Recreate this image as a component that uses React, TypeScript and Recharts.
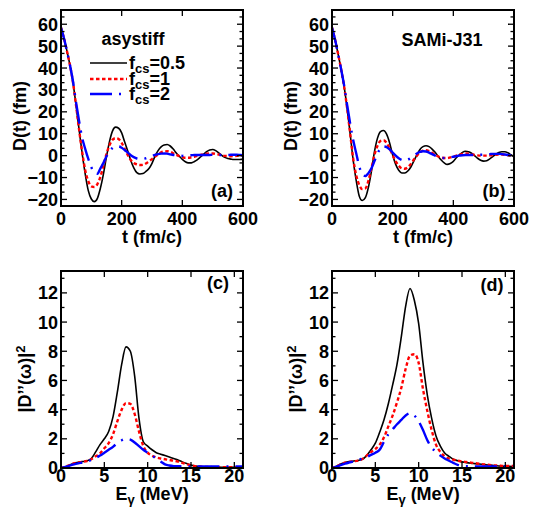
import React from "react";
import { LineChart, Line, XAxis, YAxis } from "recharts";

const FONT = '"Liberation Sans", Arial, Helvetica, sans-serif';

// time grid (fm/c) for the D(t) panels
const timeGrid = [
  0, 10, 20, 30, 40, 50, 60, 70, 80, 90, 100, 110, 120, 130, 140, 150, 160, 170, 180, 190,
  200, 210, 220, 230, 240, 250, 260, 270, 280, 290, 300, 310, 320, 330, 340, 350, 360, 370,
  380, 390, 400, 410, 420, 430, 440, 450, 460, 470, 480, 490, 500, 510, 520, 530, 540, 550,
  560, 570, 580, 590, 600,
];

// (a) asystiff
const asyF05 = [
  58.5, 53.5, 47.5, 41, 33, 22.5, 11.5, 0.8, -8.5, -16, -19.8, -21, -19.5, -14.8, -8.3, -0.5,
  6.5, 11.3, 13, 12.5, 10.4, 6.2, 2.1, -2.2, -5.6, -7.8, -8.4, -8.2, -7.2, -5.9, -3.5, -0.2,
  2.3, 4, 4.9, 5.1, 4.4, 3, 1.2, -0.3, -1.7, -2.8, -3.3, -3.3, -2.7, -1.8, -0.6, 0.6, 1.8, 2.6,
  2.8, 2.3, 1.3, 0.1, -0.8, -1.3, -1.6, -1.8, -1.8, -1.8, -1.6,
];
const asyF1 = [
  58.5, 53.5, 47.5, 41, 33, 22.5, 11.5, 1.5, -6.8, -11.7, -14, -14.3, -13, -9.6, -4.5, 0.8,
  4.8, 7.3, 8, 7.6, 5.8, 3.1, 0.3, -2, -3.4, -4, -4.3, -4.2, -3.6, -2.6, -1.6, -0.5, 0.6, 1.5,
  1.9, 2, 1.7, 1.1, 0.4, -0.2, -0.7, -1, -1, -0.8, -0.5, -0.1, 0.3, 0.6, 0.9, 1, 1, 0.8, 0.5,
  0.2, -0.1, -0.2, -0.3, -0.2, -0.1, 0, 0,
];
const asyF2 = [
  58.5, 53.5, 47.5, 41, 33.5, 24, 15.5, 8, 3, -1.5, -5.3, -7.8, -8.3, -5.8, -3.3, -0.3, 2, 3.5,
  4.2, 4.2, 3.6, 2.6, 1.4, 0.2, -0.7, -1.3, -1.5, -1.5, -1.2, -0.7, -0.2, 0.3, 0.7, 0.9, 1, 0.9,
  0.6, 0.3, 0.1, 0, -0.1, 0, 0.1, 0.2, 0.3, 0.3, 0.3, 0.3, 0.3, 0.3, 0.4, 0.4, 0.3, 0.3, 0.3,
  0.3, 0.4, 0.4, 0.4, 0.3, 0.2,
];

// (b) SAMi-J31
const samiF05 = [
  58.5, 53, 46.5, 39.5, 31.5, 21.5, 9.8, -2.3, -11.5, -18.5, -20.5, -19.2, -14.5, -7.2, 1.8, 8,
  11, 11.5, 9.8, 5.8, 0.3, -4, -6.7, -7.9, -7.9, -7, -5.2, -2.4, 0.3, 2.8, 4.1, 4.5, 4.1, 3, 1.5,
  -0.3, -2, -3.3, -4, -3.6, -2.6, -1, 0.4, 1.5, 2, 1.8, 1.1, 0, -1.2, -2.1, -2.5, -2.3, -1.5,
  -0.5, 0.6, 1.4, 1.8, 1.8, 1.3, 0.4, -0.5,
];
const samiF1 = [
  58.5, 53, 46.5, 39.5, 31.5, 21.5, 10, -1.5, -9, -13.5, -15.3, -15, -11.5, -5.8, 0.3, 4.5, 6.7,
  7, 5.8, 3.3, 0.3, -2.6, -4.6, -5.8, -6, -5.3, -3.8, -1.8, 0, 1.5, 2.3, 2.5, 2.1, 1.3, 0.4, -0.4,
  -0.9, -1.1, -1.1, -0.8, -0.4, 0, 0.4, 0.8, 1, 0.9, 0.6, 0.3, 0.1, 0, 0, 0, 0.1, 0.2, 0.4, 0.5,
  0.5, 0.4, 0.2, 0, -0.3,
];
const samiF2 = [
  58.5, 53, 46.5, 39.5, 32, 23, 14.5, 7, 1, -5, -8.5, -9.3, -8, -5.8, -2.5, 1, 3.2, 4.2, 3.9,
  2.9, 1.4, 0, -1.2, -2, -2.3, -1.9, -1, 0, 1, 1.7, 2, 1.9, 1.4, 0.7, 0, -0.6, -1, -1.1, -1, -0.8,
  -0.5, -0.2, 0, 0.2, 0.3, 0.3, 0.3, 0.3, 0.3, 0.4, 0.5, 0.6, 0.7, 0.8, 0.8, 0.8, 0.7, 0.5, 0.3,
  0.1, -0.2,
];

// energy grid (MeV) for the spectra
const energyGrid = [
  0, 0.5, 1, 1.5, 2, 2.5, 3, 3.5, 4, 4.5, 5, 5.5, 6, 6.5, 7, 7.5, 8, 8.5, 9, 9.5, 10, 10.5, 11,
  11.5, 12, 12.5, 13, 13.5, 14, 14.5, 15, 15.5, 16, 16.5, 17, 17.5, 18, 18.5, 19, 19.5, 20,
  20.5, 21,
];

// (c) asystiff
const asySpecF05 = [
  0, 0.08, 0.2, 0.33, 0.4, 0.44, 0.5, 0.65, 1.1, 1.6, 2.0, 2.5, 3.5, 5.2, 7.1, 8.3, 8.0, 6.3,
  3.4, 1.8, 1.5, 1.25, 1.05, 0.95, 0.85, 0.75, 0.65, 0.55, 0.42, 0.3, 0.2, 0.14, 0.1, 0.08,
  0.07, 0.06, 0.06, 0.05, 0.05, 0.05, 0.05, 0.05, 0.05,
];
const asySpecF1 = [
  0, 0.08, 0.2, 0.32, 0.38, 0.42, 0.48, 0.6, 0.8, 1.0, 1.35, 1.7, 2.3, 3.2, 4.0, 4.45, 4.4, 3.7,
  2.5, 1.5, 1.05, 0.85, 0.72, 0.65, 0.6, 0.55, 0.5, 0.44, 0.35, 0.26, 0.18, 0.13, 0.1, 0.08,
  0.07, 0.06, 0.05, 0.05, 0.05, 0.05, 0.05, 0.05, 0.05,
];
const asySpecF2 = [
  0, 0.07, 0.16, 0.25, 0.32, 0.38, 0.45, 0.55, 0.68, 0.85, 1.05, 1.25, 1.45, 1.7, 1.9, 2.0,
  1.95, 1.75, 1.5, 1.25, 1.05, 0.85, 0.65, 0.45, 0.25, 0.17, 0.13, 0.12, 0.11, 0.1, 0.1, 0.1,
  0.1, 0.1, 0.1, 0.1, 0.1, 0.1, 0.1, 0.1, 0.1, 0.1, 0.1,
];

// (d) SAMi-J31
const samiSpecF05 = [
  0, 0.12, 0.28, 0.38, 0.44, 0.48, 0.52, 0.6, 0.85, 1.25, 1.7, 2.45, 3.3, 4.4, 5.7, 7.1, 9.0,
  11.1, 12.3, 11.5, 9.9, 7.2, 5.0, 3.4, 2.2, 1.5, 1.03, 0.8, 0.6, 0.5, 0.42, 0.37, 0.33, 0.3,
  0.27, 0.24, 0.21, 0.18, 0.15, 0.13, 0.12, 0.11, 0.1,
];
const samiSpecF1 = [
  0, 0.1, 0.25, 0.36, 0.42, 0.46, 0.5, 0.62, 0.85, 1.1, 1.3, 1.6, 2.1, 2.85, 3.6, 4.5, 5.5, 6.8,
  7.7, 7.8, 7.2, 5.4, 3.9, 2.6, 1.6, 1.1, 0.8, 0.65, 0.57, 0.5, 0.45, 0.41, 0.37, 0.33, 0.29,
  0.25, 0.22, 0.19, 0.17, 0.15, 0.14, 0.14, 0.14,
];
const samiSpecF2 = [
  0, 0.08, 0.2, 0.3, 0.38, 0.45, 0.55, 0.65, 0.75, 0.9, 1.05, 1.25, 1.8, 2.3, 2.65, 3.0, 3.3,
  3.6, 3.75, 3.6, 3.2, 2.6, 1.9, 1.4, 1.1, 0.85, 0.65, 0.5, 0.35, 0.22, 0.15, 0.12, 0.1, 0.1,
  0.1, 0.1, 0.1, 0.1, 0.1, 0.12, 0.13, 0.14, 0.14,
];

// axis ticks
const timeTicks = [0, 200, 400, 600];
const dispTicks = [-20, -10, 0, 10, 20, 30, 40, 50, 60];
const energyTicks = [0, 5, 10, 15, 20];
const specTicks = [0, 2, 4, 6, 8, 10, 12];

const legendNames = ["0.5", "1", "2"];

const STYLES = {
  f05: { stroke: "#000", strokeWidth: 1.6, dash: undefined as string | undefined },
  f1: { stroke: "#ff0000", strokeWidth: 2.4, dash: "3.5 2.5" },
  f2: { stroke: "#0000ff", strokeWidth: 2.4, dash: "22 7 2 7" },
};

const buildRows = (xs: number[], a: number[], b: number[], c: number[]) =>
  xs.map((x, i) => ({ x, f05: a[i], f1: b[i], f2: c[i] }));

// majors plus evenly spaced minor ticks inside the domain
const withMinors = (majors: number[], sub: number, domain: [number, number]) => {
  const step = majors[1] - majors[0];
  const out: number[] = [];
  for (let v = majors[0] - step; v <= majors[majors.length - 1] + step + 1e-9; v += step / sub) {
    const r = Math.round(v * 1000) / 1000;
    if (r >= domain[0] - 1e-6 && r <= domain[1] + 1e-6) out.push(r);
  }
  return out;
};

const fmt = (v: number) => (v < 0 ? `\u2212${Math.abs(v)}` : `${v}`);

const makeTick =
  (side: "left" | "right" | "top" | "bottom", majors: number[], gap = 0) =>
  (props: any) => {
    const { x, y, payload } = props;
    const v = payload.value;
    const major = majors.some((m) => Math.abs(m - v) < 1e-6);
    const len = major ? 6 : 3.5;
    let l = { x1: x, x2: x, y1: y, y2: y };
    if (side === "left") l = { ...l, x2: x + len };
    if (side === "right") l = { ...l, x2: x - len };
    if (side === "top") l = { ...l, y2: y + len };
    if (side === "bottom") l = { ...l, y2: y - len };
    return (
      <g>
        <line {...l} stroke="#000" strokeWidth={1.3} />
        {major && side === "left" && (
          <text x={x - 3} y={y} dy="0.36em" textAnchor="end" fontFamily={FONT} fontWeight="bold" fontSize={18} fill="#000">
            {fmt(v)}
          </text>
        )}
        {major && side === "bottom" && (
          <text x={x} y={y + gap} dy="0.36em" textAnchor="middle" fontFamily={FONT} fontWeight="bold" fontSize={18} fill="#000">
            {fmt(v)}
          </text>
        )}
      </g>
    );
  };

const FRAME = { stroke: "#000", strokeWidth: 2, strokeLinecap: "square" as const };

type PanelProps = {
  rows: { x: number; f05: number; f1: number; f2: number }[];
  left: number;
  top: number;
  plotW: number;
  plotH: number;
  bottom: number;
  right: number;
  xDomain: [number, number];
  xTicks: number[];
  yDomain: [number, number];
  yTicks: number[];
  ySub: number;
  gap: number;
};

function Panel(p: PanelProps) {
  const yAll = withMinors(p.yTicks, p.ySub, p.yDomain);
  const LEFT_W = 61;
  const TOP = 10;
  return (
    <div style={{ position: "absolute", left: p.left, top: p.top }}>
      <LineChart
        width={LEFT_W + p.plotW + p.right}
        height={TOP + p.plotH + p.bottom}
        data={p.rows}
        margin={{ top: TOP - 1, right: p.right - 1, left: 0, bottom: 0 }}
      >
        <XAxis xAxisId="b" dataKey="x" type="number" domain={p.xDomain} ticks={p.xTicks} interval={0}
          height={p.bottom} tickSize={0} tickMargin={0} tickLine={false} axisLine={FRAME}
          tick={makeTick("bottom", p.xTicks, p.gap)} allowDataOverflow />
        <XAxis xAxisId="t" orientation="top" dataKey="x" type="number" domain={p.xDomain} ticks={p.xTicks}
          interval={0} height={1} tickSize={0} tickMargin={0} tickLine={false} axisLine={FRAME}
          tick={makeTick("top", p.xTicks)} allowDataOverflow />
        <YAxis yAxisId="l" type="number" domain={p.yDomain} ticks={yAll} interval={0} width={LEFT_W}
          tickSize={0} tickMargin={0} tickLine={false} axisLine={FRAME}
          tick={makeTick("left", p.yTicks)} allowDataOverflow />
        <YAxis yAxisId="r" orientation="right" type="number" domain={p.yDomain} ticks={yAll} interval={0}
          width={1} tickSize={0} tickMargin={0} tickLine={false} axisLine={FRAME}
          tick={makeTick("right", p.yTicks)} allowDataOverflow />
        {(["f05", "f1", "f2"] as const).map((k) => (
          <Line key={k} xAxisId="b" yAxisId="l" type="monotone" dataKey={k} dot={false}
            stroke={STYLES[k].stroke} strokeWidth={STYLES[k].strokeWidth}
            strokeDasharray={STYLES[k].dash} isAnimationActive={false} />
        ))}
        {/* binds the mirrored frame axes to the data so they are drawn */}
        <Line xAxisId="t" yAxisId="r" type="monotone" dataKey="f05" dot={false} stroke="none"
          activeDot={false} isAnimationActive={false} legendType="none" />
      </LineChart>
    </div>
  );
}

const txt: React.CSSProperties = {
  position: "absolute",
  fontFamily: FONT,
  fontWeight: "bold",
  fontSize: 18,
  lineHeight: "18px",
  whiteSpace: "nowrap",
  color: "#000",
};

const At = ({ x, y, rot, children }: { x: number; y: number; rot?: boolean; children: React.ReactNode }) => (
  <div style={{ ...txt, left: x, top: y, transform: `translate(-50%, -50%)${rot ? " rotate(-90deg)" : ""}` }}>
    {children}
  </div>
);

function LegendBox() {
  const ys = [63, 79, 94];
  const keys = ["f05", "f1", "f2"] as const;
  return (
    <>
      <svg style={{ position: "absolute", left: 0, top: 0 }} width={140} height={110}>
        {keys.map((k, i) => (
          <line key={k} x1={90} x2={127} y1={ys[i]} y2={ys[i]} stroke={STYLES[k].stroke}
            strokeWidth={STYLES[k].strokeWidth} strokeDasharray={STYLES[k].dash} />
        ))}
      </svg>
      {legendNames.map((n, i) => (
        <div key={n} style={{ ...txt, left: 129, top: ys[i] - 7, lineHeight: "14px", height: 14 }}>
          f<sub style={{ fontSize: 13, verticalAlign: "-4px", lineHeight: 0 }}>cs</sub>={n}
        </div>
      ))}
    </>
  );
}

export default function App() {
  const rowsA = buildRows(timeGrid, asyF05, asyF1, asyF2);
  const rowsB = buildRows(timeGrid, samiF05, samiF1, samiF2);
  const rowsC = buildRows(energyGrid, asySpecF05, asySpecF1, asySpecF2);
  const rowsD = buildRows(energyGrid, samiSpecF05, samiSpecF1, samiSpecF2);

  const topRow = { plotH: 196, bottom: 44, xDomain: [0, 600] as [number, number], xTicks: timeTicks,
    yDomain: [-23, 66.5] as [number, number], yTicks: dispTicks, ySub: 3, gap: 13 };
  const botRow = { plotH: 197, bottom: 40, xDomain: [0, 21] as [number, number], xTicks: energyTicks,
    yDomain: [0, 13.5] as [number, number], yTicks: specTicks, ySub: 2, gap: 8 };

  const dLabel = <span>D(t) (fm)</span>;
  const sLabel = <span>|D’’(ω)|<sup style={{ fontSize: 13, verticalAlign: "6px", lineHeight: 0 }}>2</sup></span>;
  const eLabel = <span style={{ lineHeight: "16px" }}>E<sub style={{ fontSize: 13, verticalAlign: "-4px", lineHeight: 0 }}>γ</sub> (MeV)</span>;

  return (
    <div style={{ position: "absolute", left: 0, top: 0, width: 536, height: 508, background: "#fff", overflow: "hidden" }}>
      <Panel rows={rowsA} left={0} top={0} plotW={182} right={25} {...topRow} />
      <Panel rows={rowsB} left={271} top={0} plotW={182} right={22} {...topRow} />
      <Panel rows={rowsC} left={0} top={261} plotW={182} right={25} {...botRow} />
      <Panel rows={rowsD} left={271} top={261} plotW={182} right={22} {...botRow} />

      <At x={20} y={116} rot>{dLabel}</At>
      <At x={291} y={116} rot>{dLabel}</At>
      <At x={152} y={237}>t (fm/c)</At>
      <At x={423} y={237}>t (fm/c)</At>
      <At x={25} y={379} rot>{sLabel}</At>
      <At x={296} y={379} rot>{sLabel}</At>
      <At x={152} y={494}>{eLabel}</At>
      <At x={423} y={494}>{eLabel}</At>

      <At x={222} y={191}>(a)</At>
      <At x={494} y={191}>(b)</At>
      <At x={218} y={283}>(c)</At>
      <At x={492} y={285}>(d)</At>

      <At x={133} y={39}>asystiff</At>
      <At x={442} y={40}>SAMi-J31</At>
      <LegendBox />
    </div>
  );
}
